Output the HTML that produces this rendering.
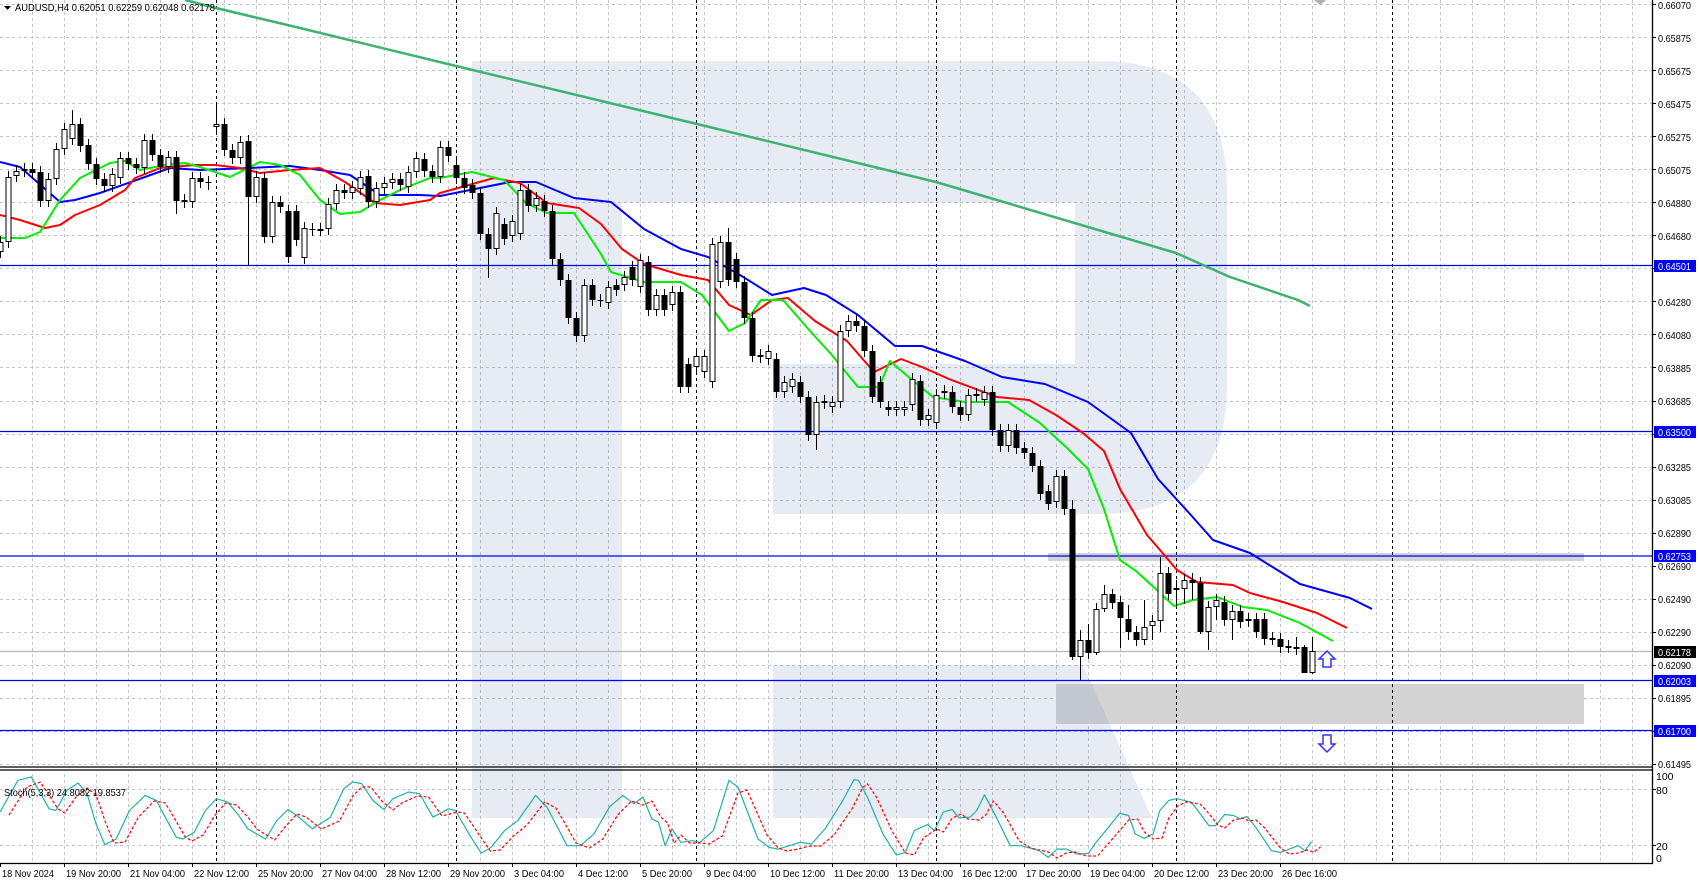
<!DOCTYPE html>
<html><head><meta charset="utf-8">
<style>
html,body{margin:0;padding:0;background:#fff;}
svg{display:block;font-family:"Liberation Sans",Tahoma,sans-serif;}
.w{fill:#fff;stroke:#000;stroke-width:1}
.b{fill:#000}
.pl text{font-size:10.5px}
</style></head>
<body>
<svg width="1699" height="880" viewBox="0 0 1699 880" xmlns="http://www.w3.org/2000/svg">
<defs>
<pattern id="vg" x="0" y="0" width="32" height="6" patternUnits="userSpaceOnUse"><rect x="0" y="0" width="1" height="3" fill="#c4c4c4"/></pattern>
</defs>
<rect width="1699" height="880" fill="#fff"/>
<rect x="1" y="0" width="1651" height="767" fill="url(#vg)"/>
<rect x="1" y="770" width="1651" height="93" fill="url(#vg)"/>
<path stroke="#c4c4c4" stroke-width="1" stroke-dasharray="3,3" fill="none" d="M0,764.5H1652M0,731.5H1652M0,698.5H1652M0,665.5H1652M0,632.5H1652M0,599.5H1652M0,566.5H1652M0,533.5H1652M0,500.5H1652M0,467.5H1652M0,434.5H1652M0,401.5H1652M0,367.5H1652M0,334.5H1652M0,301.5H1652M0,268.5H1652M0,235.5H1652M0,202.5H1652M0,169.5H1652M0,136.5H1652M0,103.5H1652M0,70.5H1652M0,37.5H1652M0,4.5H1652M0,789.5H1652M0,845.5H1652"/>
<rect x="1048" y="553" width="536" height="8" fill="#d3d3d3"/>
<rect x="1056" y="684" width="528" height="40" fill="#d3d3d3"/>
<g fill="rgba(120,145,195,0.18)">
<path d="M472,61 L1099,61 Q1227,61 1227,190 L1227,385 Q1227,514 1099,514 L773,514 L773,364 L1075,364 L1075,203 L622,203 L622,818 L472,818 Z"/>
<path d="M773,665 L1083,665 L1152,818 L773,818 Z"/>
</g>
<path stroke="#000" stroke-width="1" stroke-dasharray="3,3" d="M216.5,0V863M456.5,0V863M696.5,0V863M936.5,0V863M1176.5,0V863M1392.5,0V863"/>
<g stroke-width="1.2">
<line x1="0" y1="265.5" x2="1652" y2="265.5" stroke="#0000ff"/>
<line x1="0" y1="431.5" x2="1652" y2="431.5" stroke="#0000ff"/>
<line x1="0" y1="556" x2="1652" y2="556" stroke="#0000ff"/>
<line x1="0" y1="651.5" x2="1652" y2="651.5" stroke="#b8b8b8"/>
<line x1="0" y1="680.5" x2="1652" y2="680.5" stroke="#0000ff"/>
<line x1="0" y1="730.5" x2="1652" y2="730.5" stroke="#0000ff"/>
</g>
<g fill="none" stroke-linejoin="round">
<polyline stroke="#3cb371" stroke-width="2.5" points="185,0 216,8 300,28 456,66 697,124 936,182 1176,253 1230,277 1298,300 1310,306"/>
<polyline stroke="#0000ff" stroke-width="2" points="0,162 20,167 60,202 75,200 100,193 145,177 170,168 200,170 250,168 290,166 320,170 350,175 380,195 420,195 440,196 470,190 510,182 536,182 574,198 611,202 644,229 681,249 708,257 740,275 772,295 804,288 826,295 858,315 895,346 922,346 965,361 1002,377 1045,384 1088,402 1131,433 1158,479 1190,514 1213,540 1250,553 1300,584 1350,598 1372,609"/>
<polyline stroke="#ff0000" stroke-width="2" points="0,215 20,220 45,228 60,225 75,215 100,205 125,190 135,178 160,168 195,165 215,165 240,168 260,173 290,170 320,168 345,182 375,203 400,205 430,200 440,193 494,178 520,183 547,203 579,208 601,224 622,249 644,264 681,275 708,280 729,305 751,315 772,300 788,298 815,321 847,341 874,372 901,359 922,367 949,379 997,397 1029,400 1056,415 1083,433 1104,451 1120,489 1147,535 1160,550 1177,570 1197,582 1233,585 1250,593 1283,602 1317,613 1347,628"/>
<polyline stroke="#00ee00" stroke-width="2" points="0,238 25,238 40,232 60,200 80,178 110,163 125,161 140,170 165,165 185,163 200,167 230,177 260,162 280,165 300,175 320,200 340,214 360,212 380,200 400,190 430,178 440,178 472,172 504,180 526,203 547,213 574,213 601,254 611,272 644,282 681,282 702,295 729,331 745,323 761,300 783,300 810,331 831,354 858,387 879,387 890,361 911,379 933,397 965,402 1008,402 1040,423 1067,448 1088,469 1104,509 1120,560 1136,571 1158,591 1174,606 1193,600 1217,597 1243,607 1267,610 1300,623 1333,641"/>
</g>
<path stroke="#000" stroke-width="1" fill="none" d="M0.5,236V258M8.5,171V248M16.5,165V182M24.5,163V177M32.5,163V179M40.5,166V207M48.5,173V207M56.5,143V185M64.5,123V155M72.5,110V145M80.5,118V152M88.5,139V170M96.5,158V185M104.5,173V192M112.5,168V192M120.5,152V184M128.5,152V170M136.5,158V174M144.5,134V174M152.5,134V161M160.5,149V173M168.5,151V173M176.5,151V214M184.5,194V208M192.5,172V208M200.5,172V188M208.5,176V190M216.5,102V135M224.5,118V156M232.5,144V164M240.5,136V164M248.5,135V265M256.5,171V203M264.5,172V243M272.5,196V243M280.5,196V213M288.5,205V263M296.5,205V246M304.5,222V264M312.5,223V236M320.5,223V236M328.5,198V235M336.5,184V210M344.5,184V199M352.5,181V199M360.5,171V195M368.5,170V208M376.5,182V208M384.5,177V194M392.5,173V189M400.5,173V191M408.5,166V193M416.5,152V178M424.5,153V177M432.5,165V183M440.5,141V183M448.5,141V162M456.5,159V184M464.5,172V194M472.5,179V199M480.5,187V240M488.5,228V278M496.5,207V255M504.5,218V245M512.5,215V242M520.5,184V240M528.5,184V212M536.5,192V212M544.5,195V217M552.5,205V265M560.5,253V286M568.5,274V324M576.5,312V342M584.5,279V342M592.5,279V306M600.5,294V307M608.5,281V309M616.5,279V296M624.5,271V291M632.5,261V286M640.5,254V293M648.5,256V316M656.5,289V316M664.5,289V316M672.5,286V311M680.5,286V393M688.5,358V393M696.5,350V373M704.5,350V378M712.5,238V388M720.5,236V288M728.5,228V286M736.5,253V288M744.5,276V324M752.5,312V362M760.5,349V363M768.5,345V365M776.5,353V398M784.5,376V398M792.5,373V393M800.5,376V403M808.5,391V441M816.5,396V450M824.5,395V409M832.5,396V413M840.5,325V408M848.5,315V337M856.5,315V332M864.5,320V357M872.5,345V403M880.5,376V408M888.5,401V416M896.5,401V416M904.5,401V416M912.5,373V411M920.5,375V426M928.5,409V426M936.5,389V429M944.5,385V399M952.5,386V413M960.5,401V421M968.5,389V421M976.5,388V402M984.5,386V406M992.5,386V436M1000.5,424V452M1008.5,424V452M1016.5,424V454M1024.5,442V459M1032.5,447V472M1040.5,460V500M1048.5,485V510M1056.5,470V508M1064.5,470V515M1072.5,500V660M1080.5,630V680M1088.5,624V659M1096.5,603V655M1104.5,585V612M1112.5,589V609M1120.5,596V648M1128.5,605V640M1136.5,626V646M1144.5,600V645M1152.5,615V640M1160.5,557V632M1168.5,567V600M1176.5,580V606M1184.5,574V604M1192.5,573V600M1200.5,577V634M1208.5,601V650M1216.5,594V620M1224.5,596V626M1232.5,605V640M1240.5,605V628M1248.5,613V627M1256.5,613V638M1264.5,613V645M1272.5,632V645M1280.5,633V653M1288.5,640V653M1296.5,637V655M1304.5,645V673M1312.5,637V674"/>
<g>
<rect class="w" x="-2" y="242.5" width="5" height="9"/><rect class="w" x="6" y="177.5" width="5" height="64"/><rect class="w" x="14" y="171.5" width="5" height="4"/><rect class="w" x="22" y="169.5" width="5" height="1"/><rect class="b" x="29.5" y="169" width="6" height="4"/><rect class="b" x="37.5" y="172" width="6" height="29"/><rect class="w" x="46" y="179.5" width="5" height="21"/><rect class="w" x="54" y="149.5" width="5" height="29"/><rect class="w" x="62" y="129.5" width="5" height="19"/><rect class="w" x="70" y="124.5" width="5" height="14"/><rect class="b" x="77.5" y="124" width="6" height="22"/><rect class="b" x="85.5" y="145" width="6" height="19"/><rect class="b" x="93.5" y="164" width="6" height="15"/><rect class="b" x="101.5" y="179" width="6" height="7"/><rect class="w" x="110" y="174.5" width="5" height="11"/><rect class="w" x="118" y="158.5" width="5" height="19"/><rect class="b" x="125.5" y="158" width="6" height="6"/><rect class="b" x="133.5" y="164" width="6" height="4"/><rect class="w" x="142" y="140.5" width="5" height="27"/><rect class="b" x="149.5" y="140" width="6" height="15"/><rect class="b" x="157.5" y="155" width="6" height="12"/><rect class="w" x="166" y="157.5" width="5" height="9"/><rect class="b" x="173.5" y="157" width="6" height="44"/><rect class="b" x="181.5" y="200" width="6" height="2"/><rect class="w" x="190" y="178.5" width="5" height="23"/><rect class="b" x="197.5" y="178" width="6" height="4"/><rect class="b" x="205.5" y="182" width="6" height="1"/><rect class="w" x="214" y="124.5" width="5" height="2"/><rect class="b" x="221.5" y="124" width="6" height="26"/><rect class="b" x="229.5" y="150" width="6" height="8"/><rect class="w" x="238" y="142.5" width="5" height="15"/><rect class="b" x="245.5" y="141" width="6" height="56"/><rect class="w" x="254" y="177.5" width="5" height="19"/><rect class="b" x="261.5" y="178" width="6" height="59"/><rect class="w" x="270" y="202.5" width="5" height="34"/><rect class="b" x="277.5" y="202" width="6" height="5"/><rect class="b" x="285.5" y="211" width="6" height="46"/><rect class="b" x="293.5" y="211" width="6" height="29"/><rect class="w" x="302" y="228.5" width="5" height="29"/><rect class="b" x="309.5" y="229" width="6" height="1"/><rect class="w" x="318" y="229.5" width="5" height="1"/><rect class="w" x="326" y="204.5" width="5" height="24"/><rect class="w" x="334" y="190.5" width="5" height="13"/><rect class="b" x="341.5" y="190" width="6" height="3"/><rect class="w" x="350" y="187.5" width="5" height="5"/><rect class="w" x="358" y="177.5" width="5" height="11"/><rect class="b" x="365.5" y="176" width="6" height="26"/><rect class="w" x="374" y="188.5" width="5" height="13"/><rect class="w" x="382" y="183.5" width="5" height="4"/><rect class="w" x="390" y="179.5" width="5" height="3"/><rect class="b" x="397.5" y="179" width="6" height="6"/><rect class="w" x="406" y="172.5" width="5" height="14"/><rect class="w" x="414" y="158.5" width="5" height="13"/><rect class="b" x="421.5" y="159" width="6" height="12"/><rect class="b" x="429.5" y="171" width="6" height="6"/><rect class="w" x="438" y="147.5" width="5" height="29"/><rect class="b" x="445.5" y="147" width="6" height="9"/>
<rect class="b" x="453.5" y="165" width="6" height="13"/><rect class="b" x="461.5" y="178" width="6" height="10"/><rect class="b" x="469.5" y="185" width="6" height="8"/><rect class="b" x="477.5" y="193" width="6" height="41"/><rect class="b" x="485.5" y="234" width="6" height="15"/><rect class="w" x="494" y="213.5" width="5" height="35"/><rect class="b" x="501.5" y="224" width="6" height="15"/><rect class="w" x="510" y="221.5" width="5" height="14"/><rect class="w" x="518" y="190.5" width="5" height="43"/><rect class="b" x="525.5" y="190" width="6" height="16"/><rect class="w" x="534" y="198.5" width="5" height="7"/><rect class="b" x="541.5" y="201" width="6" height="10"/><rect class="b" x="549.5" y="211" width="6" height="48"/><rect class="b" x="557.5" y="259" width="6" height="21"/><rect class="b" x="565.5" y="280" width="6" height="38"/><rect class="b" x="573.5" y="318" width="6" height="18"/><rect class="w" x="582" y="285.5" width="5" height="50"/><rect class="b" x="589.5" y="285" width="6" height="15"/><rect class="b" x="597.5" y="300" width="6" height="1"/><rect class="w" x="606" y="287.5" width="5" height="15"/><rect class="b" x="613.5" y="285" width="6" height="5"/><rect class="w" x="622" y="277.5" width="5" height="7"/><rect class="b" x="629.5" y="267" width="6" height="13"/><rect class="w" x="638" y="260.5" width="5" height="26"/><rect class="b" x="645.5" y="262" width="6" height="48"/><rect class="w" x="654" y="295.5" width="5" height="14"/><rect class="b" x="661.5" y="295" width="6" height="15"/><rect class="w" x="670" y="292.5" width="5" height="12"/><rect class="b" x="677.5" y="292" width="6" height="95"/><rect class="b" x="685.5" y="364" width="6" height="23"/><rect class="w" x="694" y="356.5" width="5" height="10"/><rect class="w" x="702" y="356.5" width="5" height="15"/><rect class="w" x="710" y="244.5" width="5" height="137"/><rect class="w" x="718" y="242.5" width="5" height="39"/><rect class="b" x="725.5" y="242" width="6" height="38"/><rect class="b" x="733.5" y="259" width="6" height="23"/><rect class="b" x="741.5" y="282" width="6" height="36"/><rect class="b" x="749.5" y="318" width="6" height="38"/><rect class="b" x="757.5" y="355" width="6" height="2"/><rect class="w" x="766" y="351.5" width="5" height="7"/><rect class="b" x="773.5" y="359" width="6" height="33"/><rect class="w" x="782" y="382.5" width="5" height="9"/><rect class="w" x="790" y="379.5" width="5" height="7"/><rect class="b" x="797.5" y="382" width="6" height="15"/><rect class="b" x="805.5" y="397" width="6" height="38"/><rect class="w" x="814" y="402.5" width="5" height="32"/><rect class="b" x="821.5" y="401" width="6" height="2"/><rect class="w" x="830" y="402.5" width="5" height="4"/><rect class="w" x="838" y="331.5" width="5" height="70"/><rect class="w" x="846" y="321.5" width="5" height="9"/><rect class="b" x="853.5" y="321" width="6" height="5"/><rect class="b" x="861.5" y="326" width="6" height="25"/><rect class="b" x="869.5" y="351" width="6" height="46"/><rect class="b" x="877.5" y="382" width="6" height="20"/><rect class="b" x="885.5" y="407" width="6" height="3"/><rect class="w" x="894" y="407.5" width="5" height="2"/><rect class="w" x="902" y="407.5" width="5" height="2"/><rect class="w" x="910" y="379.5" width="5" height="25"/><rect class="b" x="917.5" y="381" width="6" height="39"/><rect class="w" x="926" y="415.5" width="5" height="4"/><rect class="w" x="934" y="395.5" width="5" height="27"/><rect class="b" x="941.5" y="391" width="6" height="2"/><rect class="b" x="949.5" y="392" width="6" height="15"/><rect class="b" x="957.5" y="407" width="6" height="8"/><rect class="w" x="966" y="395.5" width="5" height="19"/><rect class="b" x="973.5" y="394" width="6" height="2"/><rect class="w" x="982" y="392.5" width="5" height="7"/><rect class="b" x="989.5" y="392" width="6" height="38"/><rect class="b" x="997.5" y="430" width="6" height="16"/><rect class="w" x="1006" y="430.5" width="5" height="15"/><rect class="b" x="1013.5" y="430" width="6" height="18"/><rect class="b" x="1021.5" y="448" width="6" height="5"/><rect class="b" x="1029.5" y="453" width="6" height="13"/><rect class="b" x="1037.5" y="466" width="6" height="28"/><rect class="b" x="1045.5" y="491" width="6" height="13"/><rect class="w" x="1054" y="476.5" width="5" height="25"/><rect class="b" x="1061.5" y="476" width="6" height="33"/><rect class="b" x="1069.5" y="509" width="6" height="148"/>
<rect class="w" x="1078" y="640.5" width="5" height="16"/><rect class="b" x="1085.5" y="640" width="6" height="13"/><rect class="w" x="1094" y="609.5" width="5" height="43"/><rect class="w" x="1102" y="594.5" width="5" height="14"/><rect class="b" x="1109.5" y="594" width="6" height="9"/><rect class="b" x="1117.5" y="602" width="6" height="16"/><rect class="b" x="1125.5" y="619" width="6" height="13"/><rect class="b" x="1133.5" y="632" width="6" height="8"/><rect class="w" x="1142" y="627.5" width="5" height="12"/><rect class="w" x="1150" y="621.5" width="5" height="4"/><rect class="w" x="1158" y="573.5" width="5" height="47"/><rect class="b" x="1165.5" y="573" width="6" height="21"/><rect class="b" x="1173.5" y="588" width="6" height="2"/><rect class="w" x="1182" y="580.5" width="5" height="8"/><rect class="b" x="1189.5" y="580" width="6" height="3"/><rect class="b" x="1197.5" y="583" width="6" height="49"/><rect class="w" x="1206" y="607.5" width="5" height="24"/><rect class="w" x="1214" y="600.5" width="5" height="6"/><rect class="b" x="1221.5" y="602" width="6" height="18"/><rect class="w" x="1230" y="611.5" width="5" height="8"/><rect class="b" x="1237.5" y="611" width="6" height="11"/><rect class="w" x="1246" y="619.5" width="5" height="1"/><rect class="b" x="1253.5" y="619" width="6" height="13"/><rect class="b" x="1261.5" y="619" width="6" height="20"/><rect class="b" x="1269.5" y="638" width="6" height="2"/><rect class="b" x="1277.5" y="639" width="6" height="8"/><rect class="b" x="1285.5" y="646" width="6" height="2"/><rect class="b" x="1293.5" y="647" width="6" height="2"/><rect class="b" x="1301.5" y="647" width="6" height="26"/><rect class="w" x="1310" y="651.5" width="5" height="21"/>
</g>
<g fill="none" stroke-linejoin="round">
<polyline stroke="#20b2aa" stroke-width="1.2" points="0,812.1 17.9,780.3 31.3,776.9 49.1,808.8 55.8,810.5 67,790.3 78.1,783 87.1,793.7 96,823.9 104.9,844.7 116.1,839 129.5,810.5 145.1,795.4 156.3,800.4 165.2,817.2 176.3,837.3 183,839 194.2,832.3 205.4,810.5 216.5,798.7 227.7,802.1 238.8,815.5 247.8,828.9 265.6,839 276.8,820.5 288,809.5 296.9,815.5 312.5,828.9 330.4,817.2 343.8,788.7 352.7,781.9 361.6,783.6 372.8,800.4 383.9,809.5 392.9,798.7 408.5,792 419.6,793.7 433,817.2 448.7,808.8 455.4,810.5 471,837.3 481.3,853.1 491.1,847.4 504.5,830.6 517.9,820.5 535.7,795.4 546.9,807.1 555.8,823.9 567,845.7 580.4,845.7 593.8,834 609.4,807.1 622.8,795.4 633.9,803.8 642.9,797 651.8,818.9 658.5,822.2 665.2,845.7 671.9,828.9 680.8,842.3 692,840.7 700,842.3 713.4,830.6 729,780.3 737.9,787 758,839 769.2,847.4 778.1,849.1 789.3,845.7 800.4,842.3 811.6,844 825,828.9 842.9,800.4 854,779.6 858.5,780.3 867.4,797 883,834 896.4,855.1 905.4,852.4 914.3,830.6 927.7,824.6 934.4,830.6 943.3,812.1 952.2,809.5 958.9,817.9 970.1,817.2 976.8,810.5 984.4,794.7 994.6,813.8 1010.3,845.7 1021.4,845.7 1039.3,850.7 1048.2,857.4 1057.1,849.1 1066.1,849.1 1077.2,854.1 1088.4,853.4 1097.3,840.7 1108.5,827.2 1119.6,813.2 1128.6,815.5 1135.3,834 1144.2,838.3 1153.1,834 1159.8,810.5 1168.8,800.4 1176.8,798.7 1191.1,802.1 1197.8,810.5 1208.9,825.6 1215.6,825.6 1224.6,814.5 1233.5,815.5 1240.2,818.9 1246.9,816.5 1255.8,827.2 1271.4,850.7 1280.4,852.4 1289.3,849.1 1298.2,845.7 1304.9,850.7 1311.6,841.7"/>
<polyline stroke="#ff0000" stroke-width="1.2" stroke-dasharray="3,2" transform="translate(9,3)" points="0,812.1 17.9,784 31.3,779 49.1,806 55.8,810 67,794 78.1,785 87.1,792 96,818 104.9,840 116.1,839 129.5,814 145.1,798 156.3,800 165.2,815 176.3,834 183,838 194.2,832 205.4,813 216.5,800 227.7,802 238.8,814 247.8,826 265.6,837 276.8,823 288,811 296.9,814 312.5,826 330.4,818 343.8,793 352.7,784 361.6,784 372.8,798 383.9,807 392.9,800 408.5,793 419.6,794 433,813 448.7,809 455.4,810 471,833 481.3,848 491.1,847 504.5,833 517.9,822 535.7,799 546.9,805 555.8,820 567,840 580.4,845 593.8,836 609.4,811 622.8,798 633.9,802 642.9,798 651.8,814 658.5,820 665.2,840 671.9,832 680.8,840 692,840 700,841 713.4,833 729,790 737.9,787 758,832 769.2,845 778.1,848 789.3,846 800.4,843 811.6,843 825,832 842.9,806 854,784 858.5,781 867.4,794 883,828 896.4,850 905.4,852 914.3,835 927.7,826 934.4,829 943.3,815 952.2,811 958.9,816 970.1,817 976.8,812 984.4,798 994.6,810 1010.3,838 1021.4,845 1039.3,849 1048.2,855 1057.1,850 1066.1,849 1077.2,853 1088.4,853 1097.3,843 1108.5,830 1119.6,817 1128.6,816 1135.3,829 1144.2,836 1153.1,835 1159.8,815 1168.8,803 1176.8,799 1191.1,801 1197.8,808 1208.9,822 1215.6,825 1224.6,817 1233.5,815 1240.2,818 1246.9,817 1255.8,825 1271.4,845 1280.4,851 1289.3,850 1298.2,847 1304.9,849 1311.6,844"/>
</g>
<path d="M1327,651 L1335,659 L1331,659 L1331,667 L1323,667 L1323,659 L1319,659 Z" fill="#fff" stroke="#3030ff" stroke-width="1.5"/>
<path d="M1327,752 L1335,744 L1331,744 L1331,735 L1323,735 L1323,744 L1319,744 Z" fill="#fff" stroke="#3030ff" stroke-width="1.5"/>
<path d="M1314,0 L1326,0 L1320,5 Z" fill="#b0b0b0"/>
<g stroke="#000" stroke-width="1.3">
<line x1="1652.5" y1="0" x2="1652.5" y2="864"/>
<line x1="0" y1="767" x2="1653" y2="767"/>
<line x1="0" y1="770" x2="1653" y2="770"/>
<line x1="0" y1="863.5" x2="1653" y2="863.5"/>
</g>
<path stroke="#000" stroke-width="1" d="M1652,764.5h4M1652,731.5h4M1652,698.5h4M1652,665.5h4M1652,632.5h4M1652,599.5h4M1652,566.5h4M1652,533.5h4M1652,500.5h4M1652,467.5h4M1652,434.5h4M1652,401.5h4M1652,367.5h4M1652,334.5h4M1652,301.5h4M1652,268.5h4M1652,235.5h4M1652,202.5h4M1652,169.5h4M1652,136.5h4M1652,103.5h4M1652,70.5h4M1652,37.5h4M1652,4.5h4M1652,789.5h4M1652,845.5h4M0.5,863v4M64.5,863v4M128.5,863v4M192.5,863v4M256.5,863v4M320.5,863v4M384.5,863v4M448.5,863v4M512.5,863v4M576.5,863v4M640.5,863v4M704.5,863v4M768.5,863v4M832.5,863v4M896.5,863v4M960.5,863v4M1024.5,863v4M1088.5,863v4M1152.5,863v4M1216.5,863v4M1280.5,863v4"/>
<path d="M4,6 L11,6 L7.5,10 Z" fill="#000"/>
<text x="15" y="11" font-size="10.5" fill="#000" textLength="200" lengthAdjust="spacingAndGlyphs">AUDUSD,H4  0.62051 0.62259 0.62048 0.62178</text>
<text x="4" y="796" font-size="10.5" fill="#000" textLength="122" lengthAdjust="spacingAndGlyphs">Stoch(5,3,3) 24.8082 19.8537</text>
<g font-size="10.5" fill="#000">
<text x="1658" y="9" textLength="33" lengthAdjust="spacingAndGlyphs">0.66070</text>
<text x="1658" y="42" textLength="33" lengthAdjust="spacingAndGlyphs">0.65875</text>
<text x="1658" y="75" textLength="33" lengthAdjust="spacingAndGlyphs">0.65675</text>
<text x="1658" y="108" textLength="33" lengthAdjust="spacingAndGlyphs">0.65475</text>
<text x="1658" y="141" textLength="33" lengthAdjust="spacingAndGlyphs">0.65275</text>
<text x="1658" y="174" textLength="33" lengthAdjust="spacingAndGlyphs">0.65075</text>
<text x="1658" y="207" textLength="33" lengthAdjust="spacingAndGlyphs">0.64880</text>
<text x="1658" y="240" textLength="33" lengthAdjust="spacingAndGlyphs">0.64680</text>
<text x="1658" y="306" textLength="33" lengthAdjust="spacingAndGlyphs">0.64280</text>
<text x="1658" y="339" textLength="33" lengthAdjust="spacingAndGlyphs">0.64080</text>
<text x="1658" y="372" textLength="33" lengthAdjust="spacingAndGlyphs">0.63885</text>
<text x="1658" y="405" textLength="33" lengthAdjust="spacingAndGlyphs">0.63685</text>
<text x="1658" y="471" textLength="33" lengthAdjust="spacingAndGlyphs">0.63285</text>
<text x="1658" y="504" textLength="33" lengthAdjust="spacingAndGlyphs">0.63085</text>
<text x="1658" y="537" textLength="33" lengthAdjust="spacingAndGlyphs">0.62890</text>
<text x="1658" y="570" textLength="33" lengthAdjust="spacingAndGlyphs">0.62690</text>
<text x="1658" y="603" textLength="33" lengthAdjust="spacingAndGlyphs">0.62490</text>
<text x="1658" y="636" textLength="33" lengthAdjust="spacingAndGlyphs">0.62290</text>
<text x="1658" y="669" textLength="33" lengthAdjust="spacingAndGlyphs">0.62090</text>
<text x="1658" y="702" textLength="33" lengthAdjust="spacingAndGlyphs">0.61895</text>
<text x="1658" y="768" textLength="33" lengthAdjust="spacingAndGlyphs">0.61495</text>
<text x="1656" y="780">100</text>
<text x="1656" y="794">80</text>
<text x="1656" y="850">20</text>
<text x="1656" y="862">0</text>
</g>
<g font-size="10.5">
<rect x="1654" y="260" width="42" height="12" fill="#0000ff"/><text x="1658" y="270" fill="#fff" textLength="33" lengthAdjust="spacingAndGlyphs">0.64501</text>
<rect x="1654" y="426" width="42" height="12" fill="#0000ff"/><text x="1658" y="436" fill="#fff" textLength="33" lengthAdjust="spacingAndGlyphs">0.63500</text>
<rect x="1654" y="550" width="42" height="12" fill="#0000ff"/><text x="1658" y="560" fill="#fff" textLength="33" lengthAdjust="spacingAndGlyphs">0.62753</text>
<rect x="1654" y="646" width="42" height="12" fill="#000"/><text x="1658" y="656" fill="#fff" textLength="33" lengthAdjust="spacingAndGlyphs">0.62178</text>
<rect x="1654" y="675" width="42" height="12" fill="#0000ff"/><text x="1658" y="685" fill="#fff" textLength="33" lengthAdjust="spacingAndGlyphs">0.62003</text>
<rect x="1654" y="725" width="42" height="12" fill="#0000ff"/><text x="1658" y="735" fill="#fff" textLength="33" lengthAdjust="spacingAndGlyphs">0.61700</text>
</g>
<g font-size="10.5" fill="#000">
<text x="2" y="877" textLength="52" lengthAdjust="spacingAndGlyphs">18 Nov 2024</text>
<text x="66" y="877" textLength="55" lengthAdjust="spacingAndGlyphs">19 Nov 20:00</text>
<text x="130" y="877" textLength="55" lengthAdjust="spacingAndGlyphs">21 Nov 04:00</text>
<text x="194" y="877" textLength="55" lengthAdjust="spacingAndGlyphs">22 Nov 12:00</text>
<text x="258" y="877" textLength="55" lengthAdjust="spacingAndGlyphs">25 Nov 20:00</text>
<text x="322" y="877" textLength="55" lengthAdjust="spacingAndGlyphs">27 Nov 04:00</text>
<text x="386" y="877" textLength="55" lengthAdjust="spacingAndGlyphs">28 Nov 12:00</text>
<text x="450" y="877" textLength="55" lengthAdjust="spacingAndGlyphs">29 Nov 20:00</text>
<text x="514" y="877" textLength="50" lengthAdjust="spacingAndGlyphs">3 Dec 04:00</text>
<text x="578" y="877" textLength="50" lengthAdjust="spacingAndGlyphs">4 Dec 12:00</text>
<text x="642" y="877" textLength="50" lengthAdjust="spacingAndGlyphs">5 Dec 20:00</text>
<text x="706" y="877" textLength="50" lengthAdjust="spacingAndGlyphs">9 Dec 04:00</text>
<text x="770" y="877" textLength="55" lengthAdjust="spacingAndGlyphs">10 Dec 12:00</text>
<text x="834" y="877" textLength="55" lengthAdjust="spacingAndGlyphs">11 Dec 20:00</text>
<text x="898" y="877" textLength="55" lengthAdjust="spacingAndGlyphs">13 Dec 04:00</text>
<text x="962" y="877" textLength="55" lengthAdjust="spacingAndGlyphs">16 Dec 12:00</text>
<text x="1026" y="877" textLength="55" lengthAdjust="spacingAndGlyphs">17 Dec 20:00</text>
<text x="1090" y="877" textLength="55" lengthAdjust="spacingAndGlyphs">19 Dec 04:00</text>
<text x="1154" y="877" textLength="55" lengthAdjust="spacingAndGlyphs">20 Dec 12:00</text>
<text x="1218" y="877" textLength="55" lengthAdjust="spacingAndGlyphs">23 Dec 20:00</text>
<text x="1282" y="877" textLength="55" lengthAdjust="spacingAndGlyphs">26 Dec 16:00</text>
</g>
</svg>
</body></html>
